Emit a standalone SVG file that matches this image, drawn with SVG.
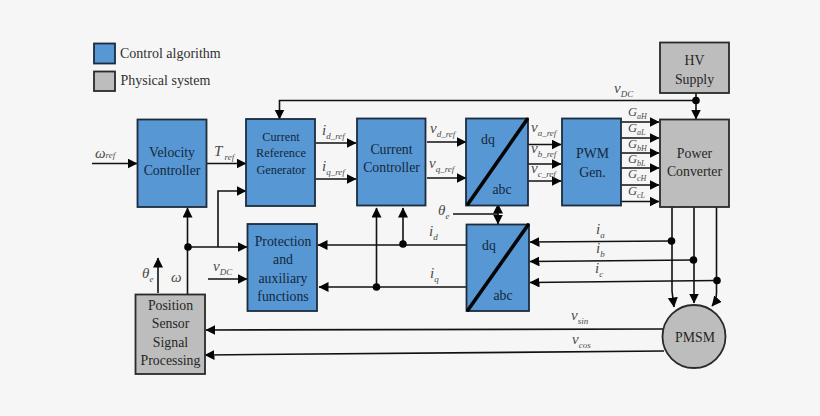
<svg xmlns="http://www.w3.org/2000/svg" width="820" height="416" viewBox="0 0 820 416">
<style>
text{font-family:"Liberation Serif","Times New Roman",serif}
.b{fill:#5797d4;stroke:#1c2c3c;stroke-width:1.8}
.g{fill:#bdbdbd;stroke:#2a2a2a;stroke-width:1.8}
.t{fill:#14283c;text-anchor:middle;font-size:13.8px}
.u{fill:#262626;text-anchor:middle;font-size:13.8px}
.s{font-size:12.3px}
.l{fill:#303030;font-size:14px}
.v{fill:#4a4a4a;font-style:italic;font-size:15px}
.v tspan{font-size:9px}
.w{fill:#4a4a4a;font-style:italic;font-size:12.5px}
.w tspan{font-size:8px}
.c path{fill:none;stroke:#111;stroke-width:1.6}
.a{marker-end:url(#ah)}
.d{stroke:#050505;stroke-width:3.6;stroke-linecap:round}
</style>
<defs><marker id="ah" markerUnits="userSpaceOnUse" markerWidth="11" markerHeight="12" refX="9.500" refY="5" orient="auto"><path d="M0 0L10 5L0 10Z" fill="#050505"/></marker></defs>
<rect width="820" height="416" fill="#f6f6f6"/>
<g id="legend">
<rect class="b" x="94" y="43.500" width="21" height="20"/><text class="l" x="120" y="58">Control algorithm</text>
<rect class="g" x="94" y="71.500" width="21" height="19.500"/><text class="l" x="120.500" y="85">Physical system</text>
</g>
<g id="connectors" class="c">
<path class="a" d="M92 163.500H137"/>
<path class="a" d="M207 163.500H246"/>
<path class="a" d="M316 143H356"/>
<path class="a" d="M316 179H356"/>
<path class="a" d="M427 142H466"/>
<path class="a" d="M427 178H466"/>
<path class="a" d="M528 144.500H561"/>
<path class="a" d="M528 164H561"/>
<path class="a" d="M528 181H561"/>
<path class="a" d="M621 122H659"/>
<path class="a" d="M621 138H659"/>
<path class="a" d="M621 153H659"/>
<path class="a" d="M621 168H659"/>
<path class="a" d="M621 185H659"/>
<path class="a" d="M621 201.500H659"/>
<path class="a" d="M696 100.500H279.500V119"/>
<path class="a" d="M696 93V119"/>
<path class="a" d="M187.500 294V208"/>
<path class="a" d="M188 247H247"/>
<path class="a" d="M218 247V191H246"/>
<path class="a" d="M158 293V258"/>
<path class="a" d="M208 279H247"/>
<path class="a" d="M466 245H318"/>
<path class="a" d="M466 287H319"/>
<path class="a" d="M403 244V208"/>
<path class="a" d="M376.500 287V208"/>
<path d="M453 214H498"/>
<path class="a" d="M498 214V204"/>
<path class="a" d="M498 214V224"/>
<path class="a" d="M671.500 241L530 242"/>
<path class="a" d="M693.500 260L530 261.500"/>
<path class="a" d="M717 280.500L530 282.500"/>
<path class="a" d="M672 207V291L674 307"/>
<path class="a" d="M694 207V303"/>
<path class="a" d="M716.500 207V290Q717 300 712 306"/>
<path class="a" d="M663 329L206 330"/>
<path class="a" d="M664 351L205 355"/>
<g fill="#050505">
<circle cx="696" cy="100.500" r="3.800"/><circle cx="188" cy="247" r="3.800"/><circle cx="403" cy="244" r="3.800"/><circle cx="376.500" cy="287" r="3.800"/><circle cx="671.500" cy="241" r="3.800"/><circle cx="693.500" cy="260" r="3.800"/><circle cx="717" cy="280.500" r="3.800"/>
</g>
</g>
<g id="velocity"><rect class="b" x="137.500" y="119.500" width="69" height="87.500"/><text class="t" x="172" y="157">Velocity</text><text class="t" x="172" y="175">Controller</text></g>
<g id="current-ref"><rect class="b" x="246" y="119" width="69" height="87"/><text class="t s" x="281" y="141">Current</text><text class="t s" x="281" y="157">Reference</text><text class="t s" x="281" y="174">Generator</text></g>
<g id="current-controller"><rect class="b" x="357" y="118.500" width="68.500" height="87"/><text class="t" x="391.500" y="154">Current</text><text class="t" x="391.500" y="172">Controller</text></g>
<g id="dqabc1"><rect class="b" x="466" y="118.500" width="62" height="87"/><line class="d" x1="468" y1="204" x2="527" y2="119.500"/><text class="t" x="488" y="144">dq</text><text class="t" x="502" y="194">abc</text></g>
<g id="pwm"><rect class="b" x="562" y="118.500" width="59" height="87"/><text class="t" x="592.500" y="158">PWM</text><text class="t" x="592.500" y="177">Gen.</text></g>
<g id="power"><rect class="g" x="660" y="119.500" width="69" height="87.500"/><text class="u" x="694.500" y="158">Power</text><text class="u" x="694.500" y="176">Converter</text></g>
<g id="hv"><rect class="g" x="660" y="42.500" width="69" height="50.500"/><text class="u" x="694.500" y="65">HV</text><text class="u" x="694.500" y="84">Supply</text></g>
<g id="protection"><rect class="b" x="247.500" y="224" width="69.500" height="87"/><text class="t" x="283" y="246">Protection</text><text class="t" x="283" y="264">and</text><text class="t" x="283" y="283">auxiliary</text><text class="t" x="283" y="301">functions</text></g>
<g id="dqabc2"><rect class="b" x="466.500" y="224.500" width="62.500" height="86.500"/><line class="d" x1="468" y1="310" x2="528" y2="225"/><text class="t" x="489" y="250">dq</text><text class="t" x="503" y="300">abc</text></g>
<g id="position"><rect class="g" x="135.500" y="294.500" width="69.500" height="79.500"/><text class="u" x="170.500" y="310">Position</text><text class="u" x="170.500" y="328">Sensor</text><text class="u" x="170.500" y="347">Signal</text><text class="u" x="170.500" y="365">Processing</text></g>
<g id="pmsm"><circle class="g" cx="694" cy="336.500" r="31.500"/><text class="u" x="695" y="342">PMSM</text></g>
<g id="labels">
<text class="v" x="95" y="158">ω<tspan>ref</tspan></text>
<text class="v" x="214" y="156">T<tspan dy="4"> ref</tspan></text>
<text class="v" x="322" y="135">i<tspan dy="4">d_ref</tspan></text>
<text class="v" x="322" y="171">i<tspan dy="4">q_ref</tspan></text>
<text class="v" x="430" y="133">v<tspan dy="4">d_ref</tspan></text>
<text class="v" x="429" y="168">v<tspan dy="4">q_ref</tspan></text>
<text class="v" x="531" y="132">v<tspan dy="4">a_ref</tspan></text>
<text class="v" x="531" y="153">v<tspan dy="4">b_ref</tspan></text>
<text class="v" x="531" y="173">v<tspan dy="4">c_ref</tspan></text>
<text class="w" x="628" y="116">G<tspan dy="3">aH</tspan></text>
<text class="w" x="628" y="132">G<tspan dy="3">aL</tspan></text>
<text class="w" x="628" y="147.500">G<tspan dy="3">bH</tspan></text>
<text class="w" x="628" y="162.500">G<tspan dy="3">bL</tspan></text>
<text class="w" x="628" y="178">G<tspan dy="3">cH</tspan></text>
<text class="w" x="628" y="195">G<tspan dy="3">cL</tspan></text>
<text class="v" x="614" y="93">v<tspan dy="4">DC</tspan></text>
<text class="v" x="438" y="215">θ<tspan dy="4">e</tspan></text>
<text class="v" x="429" y="236">i<tspan dy="4">d</tspan></text>
<text class="v" x="430" y="278">i<tspan dy="4">q</tspan></text>
<text class="v" x="596" y="234">i<tspan dy="4">a</tspan></text>
<text class="v" x="596" y="253">i<tspan dy="4">b</tspan></text>
<text class="v" x="595" y="273">i<tspan dy="4">c</tspan></text>
<text class="v" x="571" y="320">v<tspan dy="4">sin</tspan></text>
<text class="v" x="572" y="344">v<tspan dy="4">cos</tspan></text>
<text class="v" x="142" y="278">θ<tspan dy="4">e</tspan></text>
<text class="v" x="171" y="282">ω</text>
<text class="v" x="213" y="271">v<tspan dy="4">DC</tspan></text>
</g>
</svg>
